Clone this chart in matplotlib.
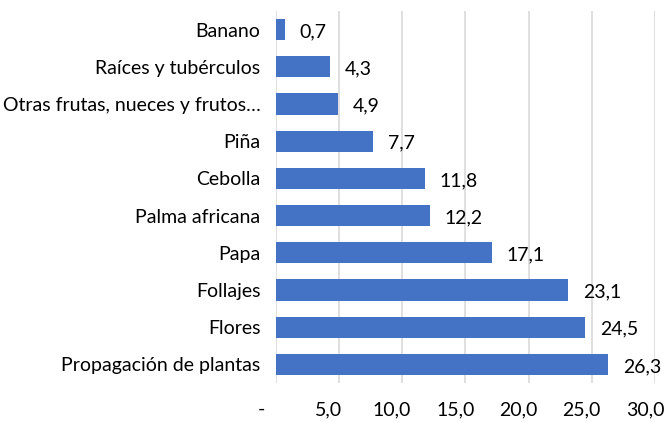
import matplotlib
matplotlib.use("Agg")
import matplotlib.pyplot as plt
import matplotlib.transforms as mtransforms

categorias = ["Banano", "Raíces y tubérculos", "Otras frutas, nueces y frutos…",
              "Piña", "Cebolla", "Palma africana", "Papa", "Follajes",
              "Flores", "Propagación de plantas"]
valores = [0.7, 4.3, 4.9, 7.7, 11.8, 12.2, 17.1, 23.1, 24.5, 26.3]
ticks = [0, 5, 10, 15, 20, 25, 30]
tick_labels = ["-", "5,0", "10,0", "15,0", "20,0", "25,0", "30,0"]

plt.rcParams['font.family'] = ['Lato', 'DejaVu Sans']
fs = 14.0

fig = plt.figure(figsize=(6.67, 4.22), dpi=100)
ax = fig.add_axes([0.4133, 0.0924, 0.5687, 0.8816])

pos = list(range(len(categorias)))
ax.barh(pos, valores, height=0.57, color='#4472C4', zorder=3)
ax.set_ylim(len(categorias) - 0.5, -0.5)
ax.set_xlim(0, 30)

ax.set_yticks(pos)
ax.set_yticklabels(categorias, fontsize=fs, color='#000000')
ax.set_xticks(ticks)
ax.set_xticklabels(tick_labels, fontsize=fs, color='#000000')
ax.tick_params(axis='y', length=0, pad=11)
ax.tick_params(axis='x', length=0, pad=13)

# etiquetas del eje x corridas a la izquierda (formato contable)
for i, lab in enumerate(ax.get_xticklabels()):
    dx = -14 if i == 0 else -10
    off = mtransforms.ScaledTranslation(dx / 100, 0, fig.dpi_scale_trans)
    lab.set_transform(lab.get_transform() + off)

ax.grid(axis='x', color='#D9D9D9', linewidth=1.2, zorder=0)
for s in ax.spines.values():
    s.set_visible(False)

for p, v in zip(pos, valores):
    ax.annotate(f"{v:.1f}".replace(".", ","), (v, p), xytext=(15, -2),
                textcoords='offset pixels', va='center', ha='left', fontsize=fs)

fig.savefig("out.png", dpi=100)
